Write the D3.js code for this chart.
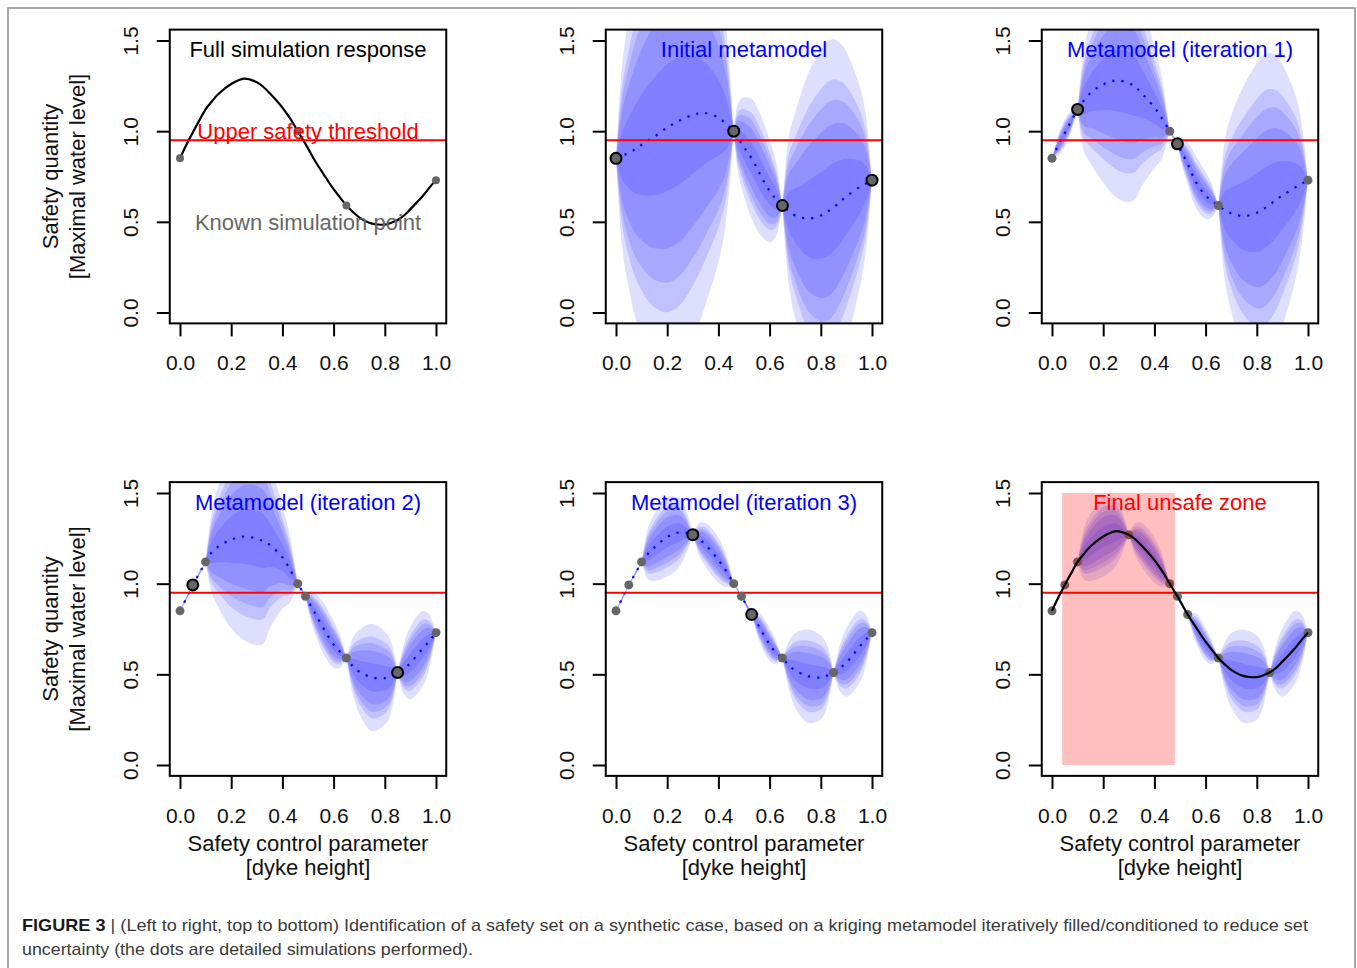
<!DOCTYPE html>
<html>
<head>
<meta charset="utf-8">
<script src="https://cdn.jsdelivr.net/npm/d3@7"></script>
<style>
  body { margin: 0; background: #fff; }
  svg { display: block; }
  text { font-family: "Liberation Sans", Arial, Helvetica, sans-serif; }
</style>
</head>
<body>
<script>
var xs = [0, 0.025, 0.05, 0.075, 0.1, 0.125, 0.15, 0.2, 0.25, 0.3, 0.325, 0.35, 0.4, 0.43,
          0.46, 0.475, 0.49, 0.51, 0.53, 0.56, 0.6, 0.625, 0.65, 0.675, 0.7, 0.75, 0.8,
          0.825, 0.85, 0.875, 0.9, 0.95, 0.975, 1];

// full simulation response (true curve)
var truthY = [0.85, 0.925, 0.993, 1.058, 1.12, 1.165, 1.205, 1.26, 1.29, 1.27, 1.245, 1.21, 1.13, 1.07,
              1.0, 0.965, 0.93, 0.88, 0.83, 0.765, 0.68, 0.635, 0.59, 0.555, 0.525, 0.49, 0.485,
              0.495, 0.51, 0.535, 0.57, 0.645, 0.69, 0.73];

// kriging mean and standard deviation, one pair per metamodel
var mean0 = [0.85, 0.865, 0.88, 0.9, 0.925, 0.948, 0.97, 1.02, 1.06, 1.09, 1.098, 1.1, 1.075, 1.04,
             1.0, 0.965, 0.935, 0.89, 0.85, 0.77, 0.67, 0.625, 0.59, 0.56, 0.535, 0.518, 0.535,
             0.555, 0.58, 0.61, 0.64, 0.69, 0.71, 0.73];
var sd0 = [0, 0.2, 0.29, 0.36, 0.41, 0.45, 0.48, 0.52, 0.52, 0.48, 0.45, 0.41, 0.31, 0.21,
           0, 0.07, 0.095, 0.115, 0.128, 0.13, 0.11, 0.08, 0, 0.16, 0.22, 0.31, 0.355,
           0.365, 0.36, 0.34, 0.31, 0.22, 0.15, 0];

var mean1 = [0.85, 0.925, 0.99, 1.055, 1.12, 1.17, 1.21, 1.258, 1.28, 1.265, 1.245, 1.21, 1.13, 1.07,
             1.0, 0.965, 0.93, 0.875, 0.82, 0.725, 0.645, 0.615, 0.59, 0.565, 0.547, 0.532, 0.55,
             0.57, 0.595, 0.62, 0.645, 0.69, 0.71, 0.73];
var sd1 = [0, 0.022, 0.03, 0.022, 0, 0.11, 0.15, 0.21, 0.25, 0.255, 0.24, 0.2, 0.13, 0.085,
           0, 0.004, 0, 0.03, 0.045, 0.055, 0.05, 0.035, 0, 0.15, 0.21, 0.28, 0.32,
           0.33, 0.325, 0.31, 0.28, 0.2, 0.13, 0];

var mean2 = [0.85, 0.92, 0.993, 1.055, 1.12, 1.175, 1.205, 1.243, 1.26, 1.248, 1.235, 1.215, 1.145, 1.077,
             1.0, 0.965, 0.93, 0.88, 0.83, 0.755, 0.665, 0.625, 0.59, 0.545, 0.515, 0.483, 0.479,
             0.487, 0.51, 0.53, 0.563, 0.645, 0.685, 0.73];
var sd2 = [0, 0.004, 0, 0.004, 0, 0.09, 0.13, 0.19, 0.222, 0.228, 0.22, 0.18, 0.11, 0.07,
           0, 0.004, 0, 0.03, 0.045, 0.055, 0.05, 0.035, 0, 0.06, 0.09, 0.115, 0.1,
           0.075, 0, 0.055, 0.078, 0.08, 0.055, 0];

var mean3 = [0.85, 0.92, 0.993, 1.055, 1.12, 1.165, 1.2, 1.257, 1.283, 1.27, 1.245, 1.215, 1.13, 1.07,
             1.0, 0.965, 0.93, 0.88, 0.83, 0.76, 0.665, 0.62, 0.59, 0.55, 0.522, 0.49, 0.482,
             0.493, 0.51, 0.535, 0.565, 0.65, 0.69, 0.73];
var sd3 = [0, 0.004, 0, 0.004, 0, 0.055, 0.072, 0.085, 0.072, 0, 0.035, 0.047, 0.048, 0.035,
           0, 0.003, 0, 0.006, 0, 0.03, 0.035, 0.025, 0, 0.05, 0.08, 0.1, 0.09,
           0.065, 0, 0.05, 0.073, 0.078, 0.055, 0];

// gaussian quantiles of the nested bands (50, 80, 90, 95, 99 %)
var bandZ = [0.674, 1.282, 1.645, 1.96, 2.576];
var threshold = 0.95;

// simulation points, by the iteration that added them
var initialX = [0, 0.46, 0.65, 1];
var iter1X = [0.1, 0.49];
var iter2X = [0.05, 0.85];
var iter3X = [0.3, 0.53];
var unsafeZone = [0.04, 0.48];

var titles = ["Full simulation response", "Initial metamodel", "Metamodel (iteration 1)",
              "Metamodel (iteration 2)", "Metamodel (iteration 3)", "Final unsafe zone"];
var xTicks = [0, 0.2, 0.4, 0.6, 0.8, 1];
var yTicks = [0, 0.5, 1, 1.5];

var svgWidth = 1357;
var svgHeight = 968;
var colLeft = [180, 616, 1052];
var rowZero = [312.5, 765];
var plotW = 256;
var plotH = 272;

var svg = d3.select("body")
    .append("svg")
    .attr("width", svgWidth)
    .attr("height", svgHeight);

// figure frame
svg.append("rect")
    .attr("x", 8).attr("y", 8)
    .attr("width", 1347).attr("height", 1000)
    .attr("fill", "none")
    .attr("stroke", "#8c8c8c")
    .attr("stroke-width", 1.5);

var panels = [
    {col: 0, row: 0, title: titles[0], color: "black", mean: null, sd: null, plain: initialX, big: [], truth: true, notes: true},
    {col: 1, row: 0, title: titles[1], color: "blue", mean: mean0, sd: sd0, plain: [], big: initialX},
    {col: 2, row: 0, title: titles[2], color: "blue", mean: mean1, sd: sd1, plain: initialX, big: iter1X},
    {col: 0, row: 1, title: titles[3], color: "blue", mean: mean2, sd: sd2, plain: initialX.concat(iter1X), big: iter2X},
    {col: 1, row: 1, title: titles[4], color: "blue", mean: mean3, sd: sd3, plain: initialX.concat(iter1X, iter2X), big: iter3X},
    {col: 2, row: 1, title: titles[5], color: "red", mean: mean3, sd: sd3, plain: initialX.concat(iter1X, iter2X, iter3X), big: [], truth: true, zone: true, noMean: true}
];

function truthAt(v) {
    return truthY[xs.indexOf(v)];
}

// split the grid into pieces between points where sd is zero
function segments(sd) {
    var zeros = [];
    sd.forEach(function(v, i) { if (v === 0) zeros.push(i); });
    var segs = [];
    for (var k = 0; k < zeros.length - 1; k++) {
        if (zeros[k + 1] - zeros[k] > 1) segs.push([zeros[k], zeros[k + 1]]);
    }
    return segs;
}

panels.forEach(function(p, i) {
    var xScale = d3.scaleLinear().domain([0, 1]).range([colLeft[p.col], colLeft[p.col] + plotW]);
    var yScale = d3.scaleLinear().domain([0, 1.5]).range([rowZero[p.row], rowZero[p.row] - plotH]);
    var g = svg.append("g");

    var bx = xScale(-0.04), by = yScale(1.56);
    var bw = xScale(1.04) - bx, bh = yScale(-0.06) - by;

    svg.append("clipPath").attr("id", "clip" + i)
        .append("rect").attr("x", bx).attr("y", by).attr("width", bw).attr("height", bh);

    var plot = g.append("g").attr("clip-path", "url(#clip" + i + ")");

    // uncertainty bands
    if (p.mean) {
        var rows = xs.map(function(x, j) { return {x: x, m: p.mean[j], s: p.sd[j]}; });
        segments(p.sd).forEach(function(seg) {
            var part = rows.slice(seg[0], seg[1] + 1);
            bandZ.forEach(function(z) {
                var area = d3.area()
                    .x(function(d) { return xScale(d.x); })
                    .y0(function(d) { return yScale(d.m - z * d.s); })
                    .y1(function(d) { return yScale(d.m + z * d.s); })
                    .curve(d3.curveCatmullRom.alpha(0.5));
                plot.append("path")
                    .datum(part)
                    .attr("d", area)
                    .attr("fill", "rgba(0,0,255,0.13)");
            });
        });
        if (!p.noMean) {
            var meanLine = d3.line()
                .x(function(d) { return xScale(d.x); })
                .y(function(d) { return yScale(d.m); })
                .curve(d3.curveCatmullRom.alpha(0.5));
            plot.append("path")
                .datum(rows)
                .attr("d", meanLine)
                .attr("fill", "none")
                .attr("stroke", "#0000ff")
                .attr("stroke-width", 2.2)
                .attr("stroke-dasharray", "2.2 7");
        }
    }

    var truthLine = d3.line()
        .x(function(d) { return xScale(d); })
        .y(function(d, j) { return yScale(truthY[j]); })
        .curve(d3.curveCatmullRom.alpha(0.5));

    if (p.truth && !p.zone) {
        plot.append("path").datum(xs).attr("d", truthLine)
            .attr("fill", "none").attr("stroke", "black").attr("stroke-width", 2.2);
    }

    // threshold
    plot.append("line")
        .attr("x1", bx).attr("x2", bx + bw)
        .attr("y1", yScale(threshold)).attr("y2", yScale(threshold))
        .attr("stroke", "#ff0000").attr("stroke-width", 2);

    // simulation points
    plot.selectAll(".pt")
        .data(p.plain)
        .enter()
        .append("circle")
        .attr("cx", function(d) { return xScale(d); })
        .attr("cy", function(d) { return yScale(truthAt(d)); })
        .attr("r", i === 0 ? 4 : 4.5)
        .attr("fill", "#666");
    plot.selectAll(".bigpt")
        .data(p.big)
        .enter()
        .append("circle")
        .attr("cx", function(d) { return xScale(d); })
        .attr("cy", function(d) { return yScale(truthAt(d)); })
        .attr("r", 5.5)
        .attr("fill", "#666")
        .attr("stroke", "black")
        .attr("stroke-width", 2);

    if (p.zone) {
        plot.append("rect")
            .attr("x", xScale(unsafeZone[0]))
            .attr("y", yScale(1.5))
            .attr("width", xScale(unsafeZone[1]) - xScale(unsafeZone[0]))
            .attr("height", yScale(0) - yScale(1.5))
            .attr("fill", "rgba(255,0,0,0.25)");
        plot.append("path").datum(xs).attr("d", truthLine)
            .attr("fill", "none").attr("stroke", "black").attr("stroke-width", 2.2);
    }

    // box
    g.append("rect")
        .attr("x", bx).attr("y", by).attr("width", bw).attr("height", bh)
        .attr("fill", "none").attr("stroke", "black").attr("stroke-width", 2);

    // axes
    var xAxis = d3.axisBottom(xScale)
        .tickValues(xTicks)
        .tickFormat(d3.format(".1f"))
        .tickSize(13)
        .tickSizeOuter(0)
        .tickPadding(19);
    var xg = g.append("g")
        .attr("transform", "translate(0," + (by + bh) + ")")
        .call(xAxis);
    xg.select(".domain").remove();
    xg.selectAll("line").attr("stroke-width", 2);
    xg.selectAll("text").attr("font-size", 21).attr("font-family", null).attr("fill", "#111");

    var yAxis = d3.axisLeft(yScale)
        .tickValues(yTicks)
        .tickFormat(d3.format(".1f"))
        .tickSize(13)
        .tickSizeOuter(0);
    var yg = g.append("g")
        .attr("transform", "translate(" + bx + ",0)")
        .call(yAxis);
    yg.select(".domain").remove();
    yg.selectAll("line").attr("stroke-width", 2);
    yg.selectAll("text")
        .attr("x", 0).attr("dy", 0)
        .attr("transform", "translate(-32,0) rotate(-90)")
        .attr("text-anchor", "middle")
        .attr("font-size", 21).attr("font-family", null).attr("fill", "#111");
    g.selectAll(".tick text").style("font-family", "'Liberation Sans', Arial, sans-serif");

    var cx = bx + bw / 2;
    var cy = by + bh / 2;

    // title
    g.append("text")
        .attr("x", xScale(0.5)).attr("y", yScale(1.45)).attr("dy", "0.35em")
        .attr("text-anchor", "middle").attr("font-size", 22)
        .attr("fill", p.color)
        .text(p.title);

    if (p.notes) {
        g.append("text")
            .attr("x", xScale(0.5)).attr("y", yScale(1.0)).attr("dy", "0.35em")
            .attr("text-anchor", "middle").attr("font-size", 22).attr("fill", "#ff0000")
            .text("Upper safety threshold");
        g.append("text")
            .attr("x", xScale(0.5)).attr("y", yScale(0.5)).attr("dy", "0.35em")
            .attr("text-anchor", "middle").attr("font-size", 22).attr("fill", "#666")
            .text("Known simulation point");
    }

    if (p.col === 0) {
        g.append("text")
            .attr("transform", "translate(57.5," + cy + ") rotate(-90)")
            .attr("text-anchor", "middle").attr("font-size", 22).attr("fill", "#111")
            .text("Safety quantity");
        g.append("text")
            .attr("transform", "translate(84.5," + cy + ") rotate(-90)")
            .attr("text-anchor", "middle").attr("font-size", 22).attr("fill", "#111")
            .text("[Maximal water level]");
    }
    if (p.row === 1) {
        g.append("text")
            .attr("x", cx).attr("y", by + bh + 75)
            .attr("text-anchor", "middle").attr("font-size", 22).attr("fill", "#111")
            .text("Safety control parameter");
        g.append("text")
            .attr("x", cx).attr("y", by + bh + 99)
            .attr("text-anchor", "middle").attr("font-size", 22).attr("fill", "#111")
            .text("[dyke height]");
    }
});

// caption
var capFont = "'Liberation Sans Narrow', 'Arial Narrow', 'Liberation Sans', Arial, sans-serif";
var cap1 = svg.append("text")
    .attr("x", 22).attr("y", 931)
    .style("font-family", capFont)
    .attr("font-size", 17)
    .attr("fill", "#3a3a3a");
cap1.append("tspan").attr("font-weight", "bold").attr("fill", "#1a1a1a").text("FIGURE 3");
cap1.append("tspan").text(" | (Left to right, top to bottom) Identification of a safety set on a synthetic case, based on a kriging metamodel iteratively filled/conditioned to reduce set");
cap1.attr("textLength", 1286).attr("lengthAdjust", "spacingAndGlyphs");

svg.append("text")
    .attr("x", 22).attr("y", 955)
    .style("font-family", capFont)
    .attr("font-size", 17)
    .attr("fill", "#3a3a3a")
    .attr("textLength", 451).attr("lengthAdjust", "spacingAndGlyphs")
    .text("uncertainty (the dots are detailed simulations performed).");
</script>
</body>
</html>
